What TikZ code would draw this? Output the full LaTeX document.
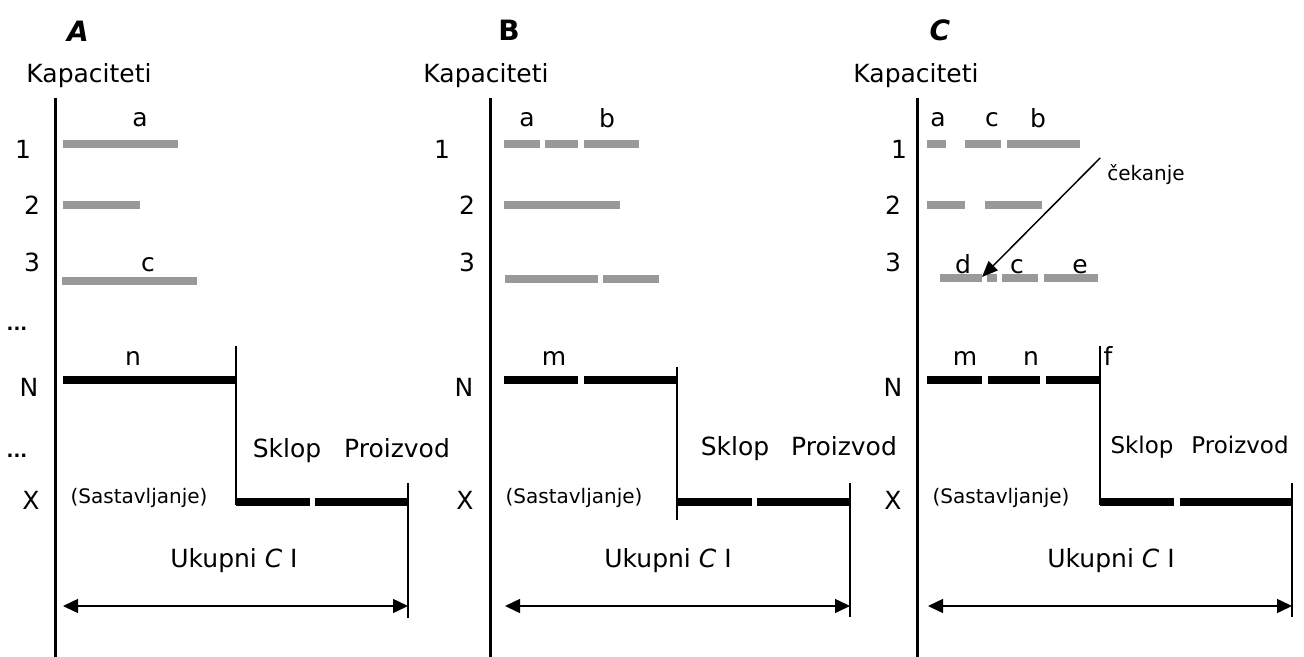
\documentclass[tikz,border=0pt]{standalone}
\usepackage{fontspec}
\setmainfont{DejaVu Sans}
\usetikzlibrary{arrows.meta}
\tikzset{
  axisline/.style   = {line width=1.5pt},
  stepline/.style   = {line width=0.75pt},
  greybar/.style    = {line width=3.6pt,gray!80},
  blackbar/.style   = {line width=4.2pt},
  spanarr/.style    = {{Triangle[length=7.5pt,width=7pt]}-{Triangle[length=7.5pt,width=7pt]},line width=0.75pt},
  waitarr/.style    = {-{Triangle[length=8pt,width=6.5pt]},line width=0.75pt},
  paneltitle/.style = {font=\fontsize{14}{16}\selectfont\bfseries},
  txt/.style        = {font=\fontsize{12.5}{14}\selectfont},
  midtxt/.style     = {font=\fontsize{11.5}{13}\selectfont},
  smalltxt/.style   = {font=\fontsize{10}{12}\selectfont},
  dotstxt/.style    = {font=\fontsize{9}{10}\selectfont\bfseries}
}

\begin{document}
\begin{tikzpicture}[x=0.5pt,y=-0.5pt]
  \useasboundingbox (0,0) rectangle (1304,657);

  \node[paneltitle] (tA) at (78,31) {\itshape A};
  \node[txt] (kapA) at (89,76) {Kapaciteti};
  \draw[axisline] (55,98) -- (55,657);
  \node[txt] (rA1) at (23,149) {1};
  \node[txt] (rA2) at (32,205) {2};
  \node[txt] (rA3) at (32,262) {3};
  \node[dotstxt,anchor=base] (dA1) at (17,330) {...};
  \node[txt] (rAN) at (29,387) {N};
  \node[dotstxt,anchor=base] (dA2) at (17,457) {...};
  \node[txt] (rAX) at (31,500) {X};
  \draw[greybar] (63,144) -- (178,144);
  \draw[greybar] (63,205) -- (140,205);
  \draw[greybar] (62,281) -- (197,281);
  \node[txt] (aA) at (140,120) {a};
  \node[txt] (cA) at (148,265) {c};
  \draw[blackbar] (63,380) -- (236,380);
  \node[txt] (nA) at (133,358) {n};
  \draw[stepline] (236,346) -- (236,505);
  \draw[blackbar] (236,502) -- (310,502);
  \draw[blackbar] (315,502) -- (408,502);
  \draw[stepline] (408,483) -- (408,618);
  \node[txt,anchor=base] (skA) at (287,457) {Sklop};
  \node[txt,anchor=base] (prA) at (397,457) {Proizvod};
  \node[smalltxt] (saA) at (139,498) {(Sastavljanje)};
  \node[txt] (ukA) at (234,561) {Ukupni \textit{C} I};
  \coordinate (sA0) at (63,606);
  \coordinate (sA1) at (408,606);
  \draw[spanarr] (sA0) -- (sA1);

  \node[paneltitle] (tB) at (509,30) {B};
  \node[txt] (kapB) at (486,76) {Kapaciteti};
  \draw[axisline] (490,98) -- (490,657);
  \node[txt] (rB1) at (442,149) {1};
  \node[txt] (rB2) at (467,205) {2};
  \node[txt] (rB3) at (467,262) {3};
  \node[txt] (rBN) at (464,387) {N};
  \node[txt] (rBX) at (465,500) {X};
  \draw[greybar] (504,144) -- (540,144);
  \draw[greybar] (545,144) -- (578,144);
  \draw[greybar] (584,144) -- (639,144);
  \draw[greybar] (504,205) -- (620,205);
  \draw[greybar] (505,279) -- (598,279);
  \draw[greybar] (603,279) -- (659,279);
  \node[txt] (aB) at (527,120) {a};
  \node[txt] (bB) at (607,118) {b};
  \draw[blackbar] (504,380) -- (578,380);
  \draw[blackbar] (584,380) -- (677,380);
  \node[txt] (mB) at (554,358) {m};
  \draw[stepline] (677,367) -- (677,520);
  \draw[blackbar] (677,502) -- (752,502);
  \draw[blackbar] (757,502) -- (850,502);
  \draw[stepline] (850,483) -- (850,617);
  \node[txt,anchor=base] (skB) at (735,455) {Sklop};
  \node[txt,anchor=base] (prB) at (844,455) {Proizvod};
  \node[smalltxt] (saB) at (574,498) {(Sastavljanje)};
  \node[txt] (ukB) at (668,561) {Ukupni \textit{C} I};
  \coordinate (sB0) at (505,606);
  \coordinate (sB1) at (850,606);
  \draw[spanarr] (sB0) -- (sB1);

  \node[paneltitle] (tC) at (940,30) {\itshape C};
  \node[txt] (kapC) at (916,76) {Kapaciteti};
  \draw[axisline] (917,98) -- (917,657);
  \node[txt] (rC1) at (899,149) {1};
  \node[txt] (rC2) at (893,205) {2};
  \node[txt] (rC3) at (893,262) {3};
  \node[txt] (rCN) at (893,387) {N};
  \node[txt] (rCX) at (893,500) {X};
  \draw[greybar] (927,144) -- (946,144);
  \draw[greybar] (965,144) -- (1001,144);
  \draw[greybar] (1007,144) -- (1080,144);
  \draw[greybar] (927,205) -- (965,205);
  \draw[greybar] (985,205) -- (1042,205);
  \draw[greybar] (940,278) -- (982,278);
  \draw[greybar] (987,278) -- (997,278);
  \draw[greybar] (1002,278) -- (1038,278);
  \draw[greybar] (1044,278) -- (1098,278);
  \node[txt] (aC) at (938,120) {a};
  \node[txt] (cC) at (992,120) {c};
  \node[txt] (bC) at (1038,118) {b};
  \node[txt] (dC) at (963,264) {d};
  \node[txt] (c2C) at (1017,267) {c};
  \node[txt] (eC) at (1080,267) {e};
  \node[smalltxt] (wait) at (1146,175) {čekanje};
  \coordinate (waitC) at (982,277);
  \draw[waitarr] (wait.north west) -- (waitC);
  \draw[blackbar] (927,380) -- (982,380);
  \draw[blackbar] (988,380) -- (1040,380);
  \draw[blackbar] (1046,380) -- (1100,380);
  \node[txt] (mC) at (965,358) {m};
  \node[txt] (nC) at (1031,358) {n};
  \node[txt] (fC) at (1108,356) {f};
  \draw[stepline] (1100,346) -- (1100,505);
  \draw[blackbar] (1100,502) -- (1174,502);
  \draw[blackbar] (1180,502) -- (1292,502);
  \draw[stepline] (1292,483) -- (1292,617);
  \node[midtxt,anchor=base] (skC) at (1142,453) {Sklop};
  \node[midtxt,anchor=base] (prC) at (1240,453) {Proizvod};
  \node[smalltxt] (saC) at (1001,498) {(Sastavljanje)};
  \node[txt] (ukC) at (1111,561) {Ukupni \textit{C} I};
  \coordinate (sC0) at (928,606);
  \coordinate (sC1) at (1292,606);
  \draw[spanarr] (sC0) -- (sC1);
\end{tikzpicture}
\end{document}
